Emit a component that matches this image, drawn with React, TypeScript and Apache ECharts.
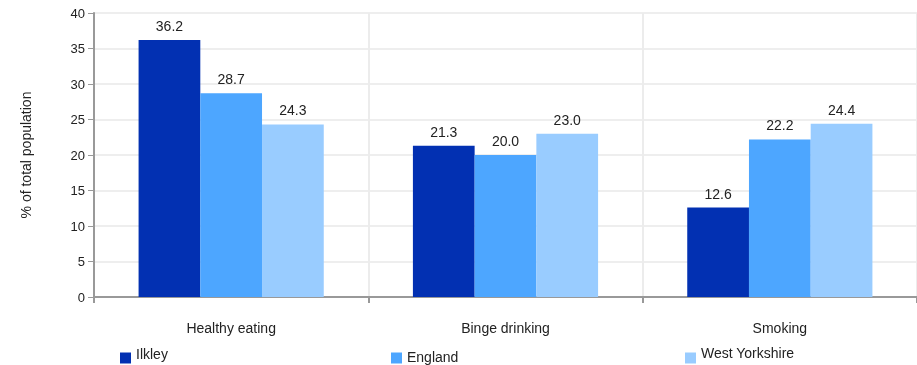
import React, { useEffect, useRef } from "react";
import * as echarts from "echarts";

const categories = ["Healthy eating", "Binge drinking", "Smoking"];
const ilkley = [36.2, 21.3, 12.6];
const england = [28.7, 20.0, 22.2];
const westYorkshire = [24.3, 23.0, 24.4];
const seriesNames = ["Ilkley", "England", "West Yorkshire"];
const colors = ["#0230B2", "#4DA6FF", "#99CCFF"];

export default function App() {
  const ref = useRef<HTMLDivElement>(null);
  useEffect(() => {
    if (!ref.current) return;
    const chart = echarts.init(ref.current, null, { renderer: "svg" });
    const font = "Liberation Sans, Arial, sans-serif";
    const values = [ilkley, england, westYorkshire];
    const legendLefts = [120, 391, 685];
    const legendBottomPads = [8, 2, 10];
    chart.setOption({
      animation: false,
      textStyle: { fontFamily: font },
      grid: { left: 94, right: -5, top: 13, bottom: 68 },
      legend: seriesNames.map((n, i) => ({
        data: [n],
        left: legendLefts[i],
        top: 351 - legendBottomPads[i] / 2,
        icon: "rect",
        itemWidth: 11,
        itemHeight: 11,
        itemGap: 7,
        padding: 0,
        formatter: (name: string) => "{t|" + name + "}",
        textStyle: {
          fontSize: 14,
          color: "#222",
          fontFamily: font,
          rich: {
            t: { fontSize: 14, color: "#222", fontFamily: font, padding: [0, 0, legendBottomPads[i], 0] },
          },
        },
      })),
      xAxis: {
        type: "category",
        data: categories,
        axisLine: { lineStyle: { color: "#999", width: 2 } },
        axisTick: { show: true, interval: 0, length: 6, lineStyle: { color: "#999", width: 2 } },
        axisLabel: { margin: 24, fontSize: 14, color: "#222", fontFamily: font },
        splitLine: { show: true, interval: 0, lineStyle: { color: "#ececec", width: 2 } },
      },
      yAxis: {
        type: "value",
        min: 0,
        max: 40,
        interval: 5,
        name: "% of total population",
        nameLocation: "middle",
        nameGap: 61,
        nameTextStyle: { fontSize: 14, color: "#222", fontFamily: font },
        axisLine: { show: true, lineStyle: { color: "#999", width: 2 } },
        axisTick: { show: true, length: 6, lineStyle: { color: "#999" } },
        axisLabel: { margin: 9, fontSize: 13, color: "#222", fontFamily: font },
        splitLine: { show: true, lineStyle: { color: "#eeeeee", width: 2 } },
      },
      series: seriesNames.map((n, i) => ({
        name: n,
        type: "bar",
        data: values[i],
        barWidth: "22.5%",
        barGap: "0%",
        itemStyle: { color: colors[i] },
        label: {
          show: true,
          position: "top",
          distance: 7,
          formatter: (p: any) => Number(p.value).toFixed(1),
          fontSize: 14,
          color: "#222",
          fontFamily: font,
        },
      })),
    });
    return () => chart.dispose();
  }, []);
  return (
    <div
      ref={ref}
      style={{ position: "fixed", left: 0, top: 0, width: 917, height: 365 }}
    />
  );
}
